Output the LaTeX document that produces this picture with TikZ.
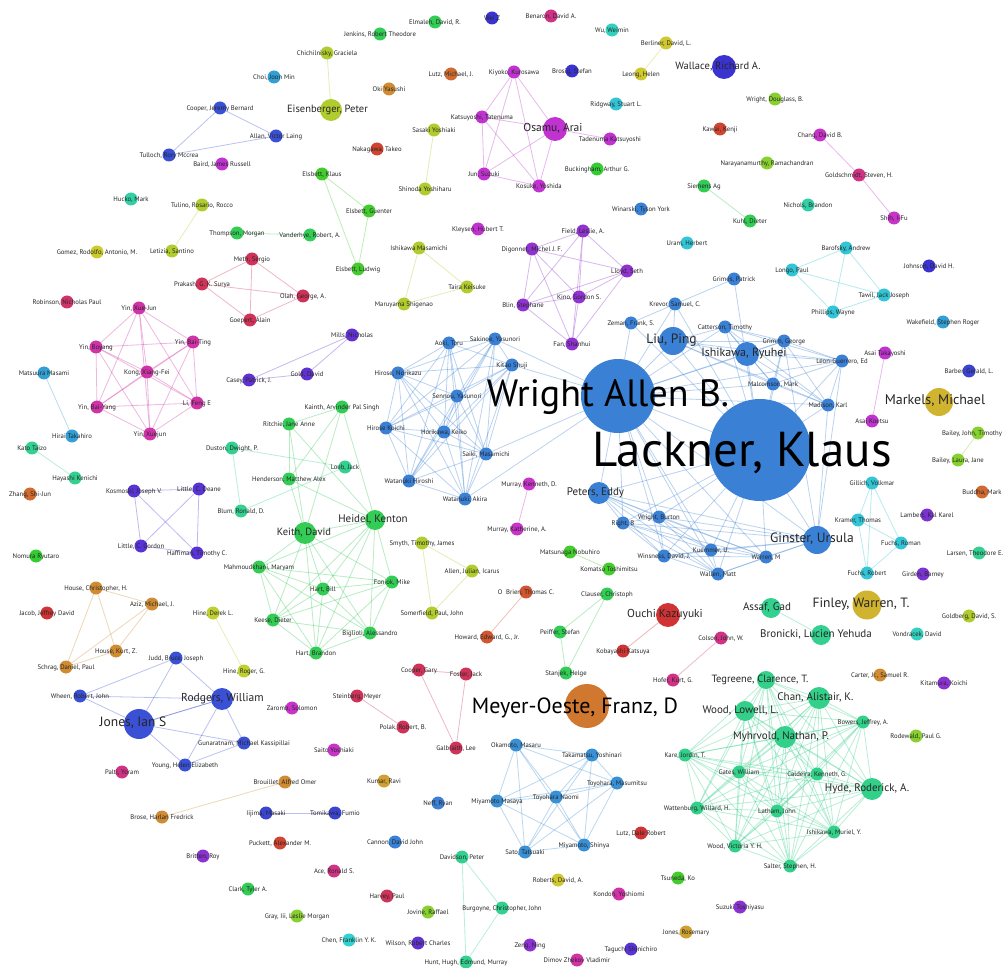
\documentclass[tikz,border=0pt]{standalone}
\usepackage{fontspec}
\setmainfont{PT Sans}
\pgfdeclarelayer{bg}
\pgfdeclarelayer{edges}
\pgfdeclarelayer{labels}
\pgfsetlayers{bg,edges,main,labels}
\definecolor{cBlue}{HTML}{3A80D5}
\definecolor{cBlue2}{HTML}{3A90D5}
\definecolor{cBlueJ}{HTML}{3A50D5}
\definecolor{cIndigo}{HTML}{3A33D0}
\definecolor{cIndigo2}{HTML}{3A44D0}
\definecolor{cViolet}{HTML}{5833D5}
\definecolor{cViolet2}{HTML}{6033D0}
\definecolor{cViolet3}{HTML}{7A33D0}
\definecolor{cPurple}{HTML}{9033D0}
\definecolor{cPurple2}{HTML}{8A33D0}
\definecolor{cMagP}{HTML}{C033D0}
\definecolor{cMag}{HTML}{C833C8}
\definecolor{cMag2}{HTML}{D033A8}
\definecolor{cPink}{HTML}{D03385}
\definecolor{cPinkR}{HTML}{D0336B}
\definecolor{cCrim}{HTML}{D0335A}
\definecolor{cRed}{HTML}{D04430}
\definecolor{cRed2}{HTML}{D03333}
\definecolor{cOrRed}{HTML}{D05530}
\definecolor{cOrange}{HTML}{D06A30}
\definecolor{cOrangeM}{HTML}{D07830}
\definecolor{cAmber}{HTML}{D08C33}
\definecolor{cAmber2}{HTML}{D0A030}
\definecolor{cYellow3}{HTML}{D0B430}
\definecolor{cYellow2}{HTML}{D0C830}
\definecolor{cYellow}{HTML}{CCCC2E}
\definecolor{cYG}{HTML}{B0CC2E}
\definecolor{cYG2}{HTML}{C0D030}
\definecolor{cLG}{HTML}{88D030}
\definecolor{cGreen2}{HTML}{44CC2E}
\definecolor{cGreen3}{HTML}{33CC33}
\definecolor{cG}{HTML}{33CC55}
\definecolor{cTG}{HTML}{33D090}
\definecolor{cTG2}{HTML}{33D08A}
\definecolor{cTeal}{HTML}{33D0A5}
\definecolor{cTeal2}{HTML}{33D0C0}
\definecolor{cCyan}{HTML}{33C5D5}
\definecolor{cCyan2}{HTML}{33D0D0}
\definecolor{cSky}{HTML}{33A0D5}
\tikzset{
  dot/.style={circle, inner sep=0pt, outer sep=0pt, draw=none},
  lab/.style={inner sep=0pt, anchor=mid, text=black!85},
  biglab/.style={inner sep=0pt, anchor=base, text=black},
  edge/.style={draw=#1, draw opacity=0.35, line width=0.8pt},
}
% key, x, y, colour, radius, font size, label x, label
\newcommand\gnx[8]{%
  \node[dot, fill=#4, minimum size=#5*2pt] (#1) at (#2,#3) {};
  \begin{pgfonlayer}{labels}
  \node[lab, font=\fontsize{#6}{#6}\selectfont] (#1-lab) at (#7,#3) {#8};
  \end{pgfonlayer}}
\newcommand\sn[5]{\gnx{#1}{#2}{#3}{#4}{6.5}{6.7}{#2}{#5}}
\newcommand\ed[3]{\draw[edge=#1] (#2) -- (#3);}
\newcommand\hubto[3]{\foreach \bb in {#3}{\draw[edge=#1] (#2) -- (\bb);}}
\newcommand\clique[2]{%
  \foreach \aa [count=\ii] in {#2}{%
    \foreach \bb [count=\jj] in {#2}{%
      \ifnum\ii<\jj \draw[edge=#1] (\aa) -- (\bb);\fi}}}
\begin{document}
\begin{tikzpicture}[x=1pt,y=-1pt]
\begin{pgfonlayer}{bg}
\fill[white] (0,0) rectangle (1005,968);
\end{pgfonlayer}
\useasboundingbox (0,0) rectangle (1005,968);
% ---------- nodes ----------
\sn{cooperJ}{220}{108}{cBlueJ}{Cooper, Jeremy Bernard}
\sn{tulloch}{169}{155}{cBlueJ}{Tulloch, Rory Mccrea}
\sn{allan}{276}{136}{cBlueJ}{Allan, Victor Laing}
\sn{baird}{222}{164}{cMagP}{Baird, James Russell}
\sn{hucko}{131}{199}{cTeal}{Hucko, Mark}
\sn{tulino}{202}{205}{cYG}{Tulino, Rosario, Rocco}
\sn{letizia}{172}{251}{cYG}{Letizia, Santino}
\sn{thompson}{237}{233}{cG}{Thompson, Morgan}
\sn{vanderhye}{310}{235}{cG}{Vanderhye, Robert, A.}
\sn{gomez}{97}{252}{cYellow}{Gomez, Rodolfo, Antonio, M.}
\sn{meth}{252}{259}{cCrim}{Meth, Sergio}
\sn{prakash}{202}{284}{cCrim}{Prakash, G. K. Surya}
\sn{olah}{303}{296}{cCrim}{Olah, George, A.}
\sn{goepert}{250}{320}{cCrim}{Goepert, Alain}
\sn{robinson}{67}{302}{cPinkR}{Robinson, Nicholas Paul}
\sn{elmaleh}{435}{22}{cG}{Elmaleh, David, R.}
\sn{weiz}{492}{18}{cIndigo}{Wei Z}
\sn{jenkins}{380}{34}{cG}{Jenkins, Robert Theodore}
\sn{chichil}{327}{53}{cYG}{Chichilnisky, Graciela}
\sn{choi}{274}{77}{cSky}{Choi, Joon Min}
\sn{lutzM}{451}{74}{cOrange}{Lutz, Michael, J.}
\sn{oki}{389}{89}{cAmber}{Oki Yasushi}
\gnx{eisen}{331}{110}{cYG}{11}{10.5}{327.5}{Eisenberger, Peter}
\sn{nakagawa}{377}{149}{cRed}{Nakagawa, Takeo}
\sn{sasaki}{434}{130}{cYG}{Sasaki Yoshiaki}
\sn{shinoda}{425}{189}{cYG}{Shinoda Yoshiharu}
\sn{elsK}{322}{174}{cGreen2}{Elsbett, Klaus}
\sn{elsG}{369}{211}{cGreen2}{Elsbett, Guenter}
\sn{elsL}{358}{269}{cGreen2}{Elsbett, Ludwig}
\sn{kleysen}{478}{229}{cMagP}{Kleysen, Hubert T.}
\sn{ishiM}{419}{248}{cYG}{Ishikawa Masamichi}
\sn{taira}{467}{287}{cYG}{Taira Keisuke}
\sn{maruyama}{404}{304}{cYG}{Maruyama Shigenao}
\sn{katsu}{482}{117}{cMagP}{Katsuyoshi, Tatenuma}
\sn{jun}{484}{174}{cMagP}{Jun, Suzuki}
\sn{kiyoko}{514}{72}{cMagP}{Kiyoko, Kurosawa}
\gnx{osamu}{555}{129}{cMagP}{12}{11.5}{553}{Osamu, Arai}
\sn{kosuke}{539}{186}{cMagP}{Kosuke, Yoshida}
\sn{tadenuma}{610}{139}{cMagP}{Tadenuma Katsuyoshi}
\sn{benaron}{551}{16}{cPink}{Benaron, David A.}
\sn{wu}{612}{30}{cTeal2}{Wu, Weimin}
\sn{berliner}{666}{43}{cYellow2}{Berliner, David, L.}
\sn{leong}{641}{74}{cYellow2}{Leong, Helen}
\gnx{wallace}{724}{67}{cIndigo}{12}{10.5}{718}{Wallace, Richard A.}
\sn{brosig}{572}{71}{cIndigo}{Brosig, Stefan}
\sn{ridgway}{616}{104}{cCyan}{Ridgway, Stuart L.}
\sn{kawai}{720}{129}{cRed}{Kawai, Kenji}
\sn{buckingham}{597}{169}{cGreen3}{Buckingham, Arthur G.}
\sn{siemens}{704}{186}{cG}{Siemens Ag}
\sn{kuhl}{750}{221}{cG}{Kuhl, Dieter}
\sn{winarski}{641}{209}{cBlue}{Winarski, Tyson York}
\sn{uram}{687}{243}{cCyan}{Uram, Herbert}
\sn{field}{583}{231}{cPurple}{Field, Leslie, A.}
\sn{digonnet}{532}{249}{cPurple}{Digonnet, Michel J. F.}
\sn{lloyd}{627}{271}{cPurple}{Lloyd, Seth}
\sn{kino}{579}{297}{cPurple}{Kino, Gordon S.}
\sn{blin}{523}{305}{cPurple}{Blin, Stephane}
\sn{fan}{572}{344}{cPurple}{Fan, Shanhui}
\sn{wrightD}{775}{99}{cLG}{Wright, Douglass, B.}
\sn{chang}{820}{135}{cMag}{Chang, David B.}
\sn{naraya}{767}{163}{cLG}{Narayanamurthy, Ramachandran}
\sn{goldsch}{859}{175}{cPink}{Goldschmidt, Steven, H.}
\sn{nichols}{808}{205}{cTeal}{Nichols, Brandon}
\sn{shih}{894}{218}{cMag}{Shih, I-Fu}
\sn{barofsky}{846}{248}{cCyan}{Barofsky, Andrew}
\sn{longo}{792}{270}{cCyan}{Longo, Paul}
\sn{johnson}{929}{266}{cIndigo}{Johnson, David H.}
\sn{tawil}{884}{295}{cCyan}{Tawil, Jack Joseph}
\sn{phillips}{833}{312}{cCyan}{Phillips, Wayne}
\sn{wakefield}{943}{322}{cSky}{Wakefield, Stephen Roger}
% Yin cluster
\sn{yinXJ}{139}{308}{cMag2}{Yin, Xue-Jun}
\sn{yinBoy}{96}{347}{cMag2}{Yin, Boyang}
\sn{yinBT}{193}{342}{cMag2}{Yin, Bai-Ting}
\sn{kong}{147}{372}{cMag2}{Kong, Xiang-Fei}
\sn{yinBY}{97}{407}{cMag2}{Yin, Bai-Yang}
\sn{liF}{197}{403}{cMag2}{Li, Feng E}
\sn{yinXu}{150}{434}{cMag2}{Yin, Xuejun}
\sn{matsuura}{44}{373}{cSky}{Matsuura Masami}
\sn{hirai}{72}{436}{cSky}{Hirai Takahiro}
\sn{kato}{32}{448}{cTG}{Kato Taizo}
\sn{hayashi}{75}{478}{cTG}{Hayashi Kenichi}
\sn{zhang}{30}{494}{cOrange}{Zhang, Shi-Jun}
\sn{kosm}{134}{491}{cViolet}{Kosmoski, Joseph V.}
\sn{littleD}{199}{489}{cViolet}{Little, C. Deane}
\sn{littleG}{141}{546}{cViolet}{Little, C. Gordon}
\sn{haff}{197}{553}{cViolet}{Haffiman, Timothy C.}
\sn{nomura}{36}{556}{cGreen3}{Nomura Ryutaro}
\sn{houseC}{96}{588}{cAmber}{House, Christopher, H.}
\sn{aziz}{152}{604}{cAmber}{Aziz, Michael, J.}
\sn{jacob}{47}{613}{cRed2}{Jacob, Jeffrey David}
\sn{hineD}{213}{613}{cYG2}{Hine, Derek L.}
\sn{casey}{249}{380}{cViolet2}{Casey, Patrick, J.}
\sn{gold}{307}{374}{cViolet2}{Gold, David}
\sn{mills}{352}{335}{cViolet2}{Mills, Nicholas}
% Keith cluster
\sn{duston}{232}{448}{cTG}{Duston, Dwight, P.}
\sn{blum}{241}{511}{cTG}{Blum, Ronald, D.}
\sn{loeb}{345}{467}{cTG}{Loeb, Jack}
\sn{kainth}{342}{407}{cG}{Kainth, Arvinder Pal Singh}
\sn{ritchie}{289}{424}{cG}{Ritchie, Jane Anne}
\sn{henderson}{289}{479}{cG}{Henderson, Matthew Alex}
\gnx{heidel}{375}{520}{cG}{10}{11}{373}{Heidel, Kenton}
\gnx{keith}{305}{533}{cG}{11}{10.5}{304}{Keith, David}
\sn{mahm}{259}{567}{cG}{Mahmoudkhani, Maryam}
\sn{foniok}{392}{582}{cG}{Foniok, Mike}
\sn{hartB}{323}{589}{cG}{Hart, Bill}
\sn{keese}{273}{620}{cG}{Keese, Dieter}
\sn{biglioli}{370}{633}{cG}{Biglioli, Alessandro}
\sn{hartBr}{316}{653}{cG}{Hart, Brandon}
\sn{smyth}{422}{543}{cYG}{Smyth, Timothy, James}
\sn{allenJ}{472}{571}{cYG}{Allen, Julian, Icarus}
\sn{somer}{432}{613}{cYG}{Somerfield, Paul, John}
\sn{howard}{487}{637}{cOrRed}{Howard, Edward, G., Jr.}
\sn{obrien}{526}{592}{cOrRed}{O\ \ Brien, Thomas C.}
% Japanese cluster
\sn{aoki}{449}{343}{cBlue}{Aoki, Toru}
\sn{sakinoe}{495}{339}{cBlue}{Sakinoe, Yasunori}
\sn{kitao}{512}{365}{cBlue}{Kitao Shuji}
\sn{hiroseN}{398}{373}{cBlue}{Hirose, Norikazu}
\sn{sennou}{457}{396}{cBlue}{Sennou, Yasunori}
\sn{hiroseK}{386}{428}{cBlue}{Hirose Koichi}
\sn{horikawa}{444}{432}{cBlue}{Horikawa, Keiko}
\sn{saiki}{486}{454}{cBlue}{Saiki, Masamichi}
\sn{watH}{409}{481}{cBlue}{Watanuki Hiroshi}
\sn{watA}{465}{499}{cBlue}{Watanuki, Akira}
% Lackner cluster
\node[dot, fill=cBlue, minimum size=102pt] (lackner) at (760,450) {};
\node[dot, fill=cBlue, minimum size=74pt] (wrightA) at (618,396) {};
\begin{pgfonlayer}{labels}
\node[biglab, font=\fontsize{49}{49}\selectfont] (lackner-lab) at (742,467) {Lackner, Klaus};
\node[biglab, font=\fontsize{38}{38}\selectfont] (wrightA-lab) at (608,407) {Wright Allen B.};
\end{pgfonlayer}
\gnx{liu}{673}{341}{cBlue}{14}{13.5}{671.5}{Liu, Ping}
\gnx{ishiR}{747}{354}{cBlue}{12}{12}{744}{Ishikawa, Ryuhei}
\sn{grimes}{734}{279}{cBlue}{Grimes, Patrick}
\sn{krevor}{675}{304}{cBlue}{Krevor, Samuel, C.}
\sn{zeman}{631}{323}{cBlue}{Zeman, Frank, S.}
\sn{catter}{725}{327}{cBlue}{Catterson, Timothy}
\sn{grimm}{784}{341}{cBlue}{Grimm, George}
\sn{leon}{842}{361}{cBlue}{Leon-Guerrero, Ed}
\sn{malcom}{773}{384}{cBlue}{Malcomson, Mark}
\sn{madison}{828}{405}{cBlue}{Madison, Karl}
\gnx{peters}{599}{493}{cBlue}{11}{11}{595.5}{Peters, Eddy}
\sn{rightB}{623}{523}{cBlue}{Right, B}
\sn{wrightB}{659}{517}{cBlue}{Wright, Burton}
\sn{winsness}{664}{556}{cBlue}{Winsness, David, J.}
\sn{kuemmer}{711}{550}{cBlue}{Kuemmer, U.}
\sn{wallen}{718}{574}{cBlue}{Wallen, Matt}
\sn{warren}{766}{557}{cBlue}{Warren, M}
\gnx{ginster}{817}{540}{cBlue}{14}{13.5}{812}{Ginster, Ursula}
\sn{murrayKe}{529}{484}{cMag}{Murray, Kenneth, D.}
\sn{murrayKa}{517}{529}{cMag}{Murray, Katherine, A.}
\sn{matsunaga}{570}{552}{cGreen2}{Matsunaga Nobuhiro}
\sn{komatsu}{609}{569}{cGreen2}{Komatsu Toshimitsu}
\sn{clauser}{607}{594}{cG}{Clauser, Christoph}
\sn{peiffer}{560}{632}{cG}{Peiffer, Stefan}
\sn{stanjek}{566}{673}{cG}{Stanjek, Helge}
\gnx{ouchi}{668}{615}{cRed2}{12}{11.5}{665}{Ouchi Kazuyuki}
\sn{kobayashi}{623}{651}{cRed2}{Kobayashi Katsuya}
\sn{colson}{721}{638}{cPink}{Colson, John, W.}
\sn{hofer}{673}{680}{cPink}{Hofer, Kurt, G.}
\sn{asaiT}{885}{353}{cMagP}{Asai Takayoshi}
\sn{asaiK}{872}{421}{cMagP}{Asai Koetsu}
\sn{barber}{969}{371}{cIndigo2}{Barber, Gerald, L.}
\gnx{markels}{939}{402}{cYellow3}{14}{14}{935}{Markels, Michael}
\gnx{baileyJ}{978}{433}{cLG}{6.5}{6.7}{972}{Bailey, John, Timothy}
\sn{baileyL}{958}{460}{cLG}{Bailey, Laura, Jane}
\sn{gillich}{872}{483}{cCyan}{Gillich, Volkmar}
\sn{buddha}{982}{492}{cOrange}{Buddha, Mark}
\sn{kramer}{858}{520}{cCyan}{Kramer, Thomas}
\sn{lambert}{927}{515}{cViolet3}{Lambert, Kal Karel}
\sn{fuchsRo}{901}{543}{cCyan}{Fuchs, Roman}
\gnx{larsen}{979}{553}{cTG}{6.5}{6.7}{975}{Larsen, Theodore E.}
\sn{fuchsRb}{867}{573}{cCyan}{Fuchs, Robert}
\sn{girden}{923}{574}{cViolet3}{Girden, Barney}
\gnx{assaf}{771}{608}{cTG}{10}{11}{767}{Assaf, Gad}
\gnx{finley}{867}{605}{cYellow3}{14.5}{13.5}{861}{Finley, Warren, T.}
\sn{goldberg}{969}{616}{cYG}{Goldberg, David, S.}
\gnx{bronicki}{821}{635}{cTG}{10}{11}{816}{Bronicki, Lucien Yehuda}
\sn{vondracek}{917}{634}{cTeal2}{Vondracek, David}
% Jones cluster
\sn{houseK}{116}{651}{cAmber}{House, Kurt, Z.}
\sn{judd}{176}{658}{cBlueJ}{Judd, Bruce, Joseph}
\sn{schrag}{66}{667}{cAmber}{Schrag, Daniel, Paul}
\sn{hineR}{244}{671}{cYG2}{Hine, Roger, G.}
\sn{wheen}{80}{696}{cBlueJ}{Wheen, Robert, John}
\gnx{rodgers}{222}{699}{cBlueJ}{11}{11.5}{222.5}{Rodgers, William}
\gnx{jones}{139}{724}{cBlueJ}{15}{13.5}{133}{Jones, Ian S}
\sn{gunar}{244}{743}{cBlueJ}{Gunaratnam, Michael Kassipillai}
\sn{young}{185}{765}{cBlueJ}{Young, Helen Elizabeth}
\sn{palti}{122}{772}{cPink}{Palti, Yoram}
\sn{brose}{162}{817}{cAmber}{Brose, Harlan Fredrick}
\sn{britten}{203}{856}{cPurple2}{Britten, Roy}
\sn{clark}{248}{889}{cG}{Clark, Tyler A.}
\sn{cooperG}{419}{670}{cCrim}{Cooper, Gary}
\sn{foster}{466}{674}{cCrim}{Foster, Jack}
\sn{steinberg}{357}{696}{cCrim}{Steinberg, Meyer}
\sn{zaromb}{292}{708}{cMag}{Zaromb, Solomon}
\sn{polak}{403}{727}{cCrim}{Polak, Robert, B.}
\sn{galbraith}{456}{748}{cCrim}{Galbraith, Lee}
\sn{saito}{334}{750}{cMag}{Saito Yoshiaki}
\sn{brouillet}{285}{782}{cAmber}{Brouillet, Alfred Omer}
\sn{kumar}{384}{781}{cAmber2}{Kumar, Ravi}
\sn{neff}{438}{803}{cBlue}{Neff, Ryan}
\sn{iijima}{266}{813}{cIndigo2}{Iijima, Masaki}
\sn{tomikawa}{335}{813}{cIndigo2}{Tomikawa, Fumio}
\sn{puckett}{280}{843}{cRed}{Puckett, Alexander M.}
\sn{cannon}{395}{842}{cBlue}{Cannon, David John}
\sn{davidson}{462}{857}{cTG}{Davidson, Peter}
\sn{ace}{334}{871}{cPink}{Ace, Ronald S.}
\sn{harvey}{387}{896}{cCrim}{Harvey, Paul}
\sn{burgoyne}{502}{908}{cTG}{Burgoyne, Christopher, John}
\sn{gray}{297}{916}{cLG}{Gray, Iii, Leslie Morgan}
\sn{jovine}{428}{912}{cLG}{Jovine, Raffael}
\sn{chen}{349}{940}{cCyan2}{Chen, Franklin Y. K.}
\sn{wilson}{418}{943}{cViolet2}{Wilson, Robert Charles}
\sn{hunt}{466}{962}{cTG}{Hunt, Hugh, Edmund, Murray}
% Meyer-Oeste and Toyohara cluster
\node[dot, fill=cOrangeM, minimum size=44pt] (meyer) at (587,706) {};
\begin{pgfonlayer}{labels}
\node[biglab, font=\fontsize{22}{22}\selectfont] (meyer-lab) at (575,713) {Meyer-Oeste, Franz, D};
\end{pgfonlayer}
\sn{okamoto}{516}{745}{cBlue2}{Okamoto, Masaru}
\sn{takamatsu}{592}{755}{cBlue2}{Takamatsu, Yoshinari}
\sn{toyoM}{617}{783}{cBlue2}{Toyohara, Masumitsu}
\sn{miyaMa}{497}{801}{cBlue2}{Miyamoto Masaya}
\sn{toyoN}{556}{797}{cBlue2}{Toyohara Naomi}
\sn{miyaS}{584}{845}{cBlue2}{Miyamoto, Shinya}
\sn{sato}{525}{852}{cBlue2}{Sato, Tatsuaki}
% Myhrvold cluster
\gnx{tegreene}{766}{680}{cTG2}{9}{10.5}{760}{Tegreene, Clarence, T.}
\gnx{chan}{819}{698}{cTG2}{11}{11}{815.5}{Chan, Alistair, K.}
\gnx{woodL}{745}{711}{cTG2}{10}{11}{740.5}{Wood, Lowell, L.}
\gnx{myhr}{785}{737}{cTG2}{11}{11}{781}{Myhrvold, Nathan, P.}
\sn{bowers}{863}{722}{cTG2}{Bowers, Jeffrey, A.}
\sn{kare}{685}{755}{cTG2}{Kare, Jordin, T.}
\sn{gates}{739}{772}{cTG2}{Gates, William}
\sn{caldeira}{817}{774}{cTG2}{Caldeira, Kenneth, G.}
\gnx{hyde}{872}{789}{cTG2}{11}{11}{867}{Hyde, Roderick, A.}
\sn{watten}{697}{808}{cTG2}{Wattenburg, Willard, H.}
\sn{latham}{777}{811}{cTG2}{Latham, John}
\sn{ishiMu}{834}{832}{cTG2}{Ishikawa, Muriel, Y.}
\sn{woodV}{735}{846}{cTG2}{Wood, Victoria Y. H.}
\sn{salter}{790}{866}{cTG2}{Salter, Stephen, H.}
\sn{lutzD}{641}{833}{cRed2}{Lutz, Dale Robert}
\sn{roberts}{558}{880}{cYellow2}{Roberts, David, A.}
\sn{tsuneda}{678}{878}{cGreen2}{Tsuneda, Ko}
\sn{kondoh}{619}{894}{cMag2}{Kondoh, Yoshiomi}
\sn{suzuki}{740}{907}{cPurple2}{Suzuki Toshiyasu}
\sn{jonesR}{686}{932}{cAmber2}{Jones, Rosemary}
\sn{zeng}{530}{945}{cPurple2}{Zeng, Ning}
\sn{taguchi}{631}{949}{cViolet}{Taguchi Shinichiro}
\sn{dimov}{577}{960}{cMag2}{Dimov Zhekov Vladimir}
\sn{carter}{880}{675}{cAmber}{Carter, Jr., Samuel R.}
\sn{kitamura}{944}{683}{cPurple2}{Kitamura, Koichi}
\sn{rodewald}{916}{736}{cLG}{Rodewald, Paul G.}
% ---------- edges ----------
\begin{pgfonlayer}{edges}
\clique{cBlueJ}{cooperJ,tulloch,allan}
\ed{cYG}{tulino}{letizia}
\ed{cYG}{chichil}{eisen}
\ed{cYG}{sasaki}{shinoda}
\clique{cGreen2}{elsK,elsG,elsL}
\ed{cG}{thompson}{vanderhye}
\clique{cYG}{ishiM,taira,maruyama}
\clique{cCrim}{meth,prakash,olah,goepert}
\clique{cMagP}{kiyoko,katsu,osamu,jun,kosuke}
\ed{cMagP}{osamu}{tadenuma}
\ed{cYellow2}{berliner}{leong}
\ed{cG}{siemens}{kuhl}
\ed{cMag}{chang}{goldsch}
\ed{cMag}{goldsch}{shih}
\clique{cPurple}{field,digonnet,lloyd,kino,blin,fan}
\clique{cCyan}{barofsky,longo,tawil,phillips}
\clique{cMag2}{yinXJ,yinBoy,yinBT,kong,yinBY,liF,yinXu}
\ed{cSky}{matsuura}{hirai}
\ed{cTG}{kato}{hayashi}
\clique{cViolet}{kosm,littleD,littleG,haff}
\clique{cViolet2}{casey,gold,mills}
\clique{cTG}{duston,blum,loeb}
\clique{cG}{keith,heidel,mahm,foniok,hartB,keese,biglioli,hartBr}
\clique{cG}{kainth,ritchie,henderson}
\hubto{cG}{keith}{kainth,ritchie,henderson}
\hubto{cG}{heidel}{kainth,ritchie,henderson}
\clique{cYG}{smyth,allenJ,somer}
\ed{cOrRed}{howard}{obrien}
\ed{cMag}{murrayKe}{murrayKa}
\ed{cGreen2}{matsunaga}{komatsu}
\clique{cG}{clauser,peiffer,stanjek}
\ed{cRed2}{ouchi}{kobayashi}
\ed{cPink}{colson}{hofer}
\ed{cMagP}{asaiT}{asaiK}
\ed{cLG}{baileyJ}{baileyL}
\clique{cCyan}{gillich,kramer,fuchsRo,fuchsRb}
\ed{cTG}{assaf}{bronicki}
\clique{cAmber}{houseC,aziz,houseK,schrag}
\ed{cYG2}{hineD}{hineR}
\ed{cBlueJ}{wheen}{judd}
\ed{cBlueJ}{wheen}{rodgers}
\ed{cBlueJ}{wheen}{jones}
\clique{cBlueJ}{judd,jones,rodgers}
\clique{cBlueJ}{jones,rodgers,gunar,young}
\ed{cAmber}{brose}{brouillet}
\ed{cIndigo2}{iijima}{tomikawa}
\clique{cCrim}{cooperG,foster,galbraith}
\ed{cCrim}{steinberg}{polak}
\clique{cTG}{davidson,burgoyne,hunt}
\clique{cBlue2}{okamoto,takamatsu,toyoM,miyaMa,toyoN,miyaS,sato}
\clique{cTG2}{tegreene,chan,woodL,myhr,bowers,kare,gates,caldeira,hyde,watten,latham,ishiMu,woodV,salter}
\clique{cBlue}{aoki,sakinoe,kitao,hiroseN,sennou,hiroseK,horikawa,saiki,watH,watA}
\hubto{cBlue}{wrightA}{sakinoe,kitao,saiki,watA}
\clique{cBlue}{liu,ishiR,catter,grimm,leon,malcom,madison}
\clique{cBlue}{peters,rightB,wrightB,winsness,kuemmer,wallen,warren,ginster}
\hubto{cBlue}{lackner}{wrightA,liu,ishiR,catter,grimm,leon,malcom,madison,peters,rightB,wrightB,winsness,kuemmer,wallen,warren,ginster,krevor,zeman,grimes}
\hubto{cBlue}{wrightA}{liu,ishiR,catter,grimm,leon,malcom,madison,peters,rightB,wrightB,winsness,kuemmer,wallen,warren,ginster,krevor,zeman}
\hubto{cBlue}{ginster}{madison,leon,grimm}
\ed{cBlue}{zeman}{krevor}
\ed{cBlue}{krevor}{grimes}
\ed{cBlue}{krevor}{liu}
\end{pgfonlayer}
\end{tikzpicture}
\end{document}
